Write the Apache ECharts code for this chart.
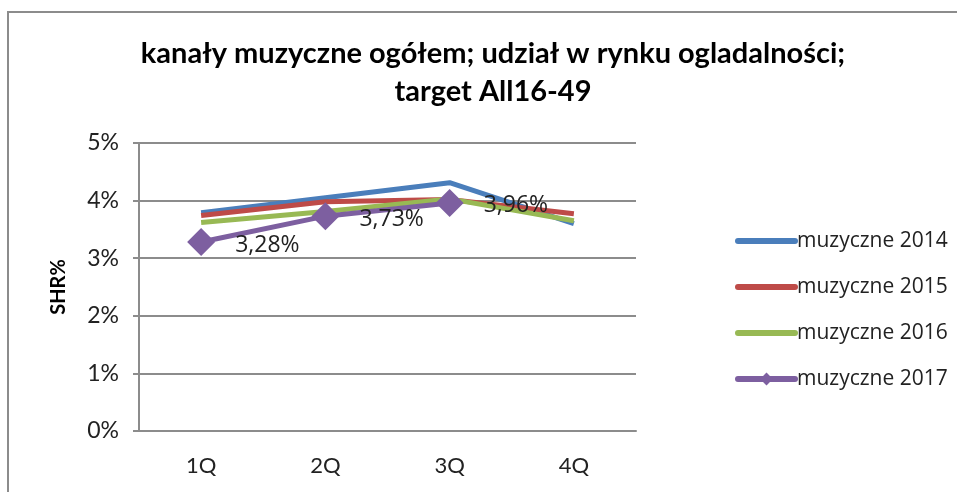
<!DOCTYPE html>
<html>
<head>
<meta charset="utf-8">
<script src="https://cdn.jsdelivr.net/npm/echarts@6/dist/echarts.min.js"></script>
<style>
  html, body { margin: 0; padding: 0; background: #fff; }
  #chart { width: 957px; height: 492px; }
</style>
</head>
<body>
<div id="chart"></div>
<script>
// dane (SHR% w procentach)
const quarters = ["1Q", "2Q", "3Q", "4Q"];
const yTicks = [0, 1, 2, 3, 4, 5];
const shr2014 = [3.79, 4.05, 4.31, 3.60];
const shr2015 = [3.74, 3.98, 4.02, 3.77];
const shr2016 = [3.62, 3.81, 4.03, 3.65];
const shr2017 = [3.28, 3.73, 3.96];
const seriesNames = ["muzyczne 2014", "muzyczne 2015", "muzyczne 2016", "muzyczne 2017"];
const colors = ["#4a7ebb", "#be4b48", "#98b954", "#7d5fa0"];

const chart = echarts.init(document.getElementById("chart"));

function lineSeries(idx, data) {
  return {
    name: seriesNames[idx],
    type: "line",
    data: data,
    symbol: "none",
    lineStyle: { width: 5, color: colors[idx] },
    itemStyle: { color: colors[idx] },
    emphasis: { disabled: true }
  };
}

// legenda: linie bez kółek, tylko 2017 ma romb
const legendData = seriesNames.map((n, i) => ({
  name: n,
  itemStyle: i < 3 ? { opacity: 0 } : { color: colors[i] },
  lineStyle: { width: 6, cap: "round", color: colors[i] }
}));

chart.setOption({
  animation: false,
  title: {
    text: "kanały muzyczne ogółem; udział w rynku ogladalności;\ntarget All16-49",
    left: 488,
    textAlign: "center",
    top: 30,
    textStyle: {
      fontFamily: "Lato",
      fontWeight: "bold",
      fontSize: 29,
      color: "#000",
      lineHeight: 38
    }
  },
  graphic: [
    {
      type: "rect",
      shape: { x: 8, y: 12, width: 1000, height: 600 },
      style: { fill: "none", stroke: "#8c8c8c", lineWidth: 2 },
      silent: true
    }
  ],
  legend: {
    orient: "vertical",
    left: 730,
    top: 224,
    itemWidth: 57,
    itemHeight: 16,
    itemGap: 22,
    data: legendData,
    textStyle: {
      fontFamily: "Open Sans",
      fontSize: 21,
      lineHeight: 24,
      color: "#222",
      padding: [0, 0, 0, -3]
    }
  },
  grid: { left: 139, right: 321, top: 143, bottom: 61 },
  xAxis: {
    type: "category",
    data: quarters,
    boundaryGap: true,
    axisLine: { lineStyle: { color: "#8c8c8c", width: 2 } },
    axisTick: { show: false },
    axisLabel: {
      fontFamily: "Lato",
      fontSize: 22,
      color: "#222",
      margin: 24
    }
  },
  yAxis: {
    type: "value",
    min: yTicks[0],
    max: yTicks[yTicks.length - 1],
    interval: 1,
    name: "SHR%",
    nameLocation: "middle",
    nameGap: 70,
    nameRotate: 90,
    nameTextStyle: {
      fontFamily: "Lato",
      fontWeight: "bold",
      fontSize: 20,
      color: "#000"
    },
    axisLine: { show: true, lineStyle: { color: "#8c8c8c", width: 2 } },
    axisTick: { show: true, length: 6, lineStyle: { color: "#8c8c8c", width: 2 } },
    splitLine: { lineStyle: { color: "#8c8c8c", width: 2 } },
    axisLabel: {
      fontFamily: "Lato",
      fontSize: 23,
      color: "#222",
      margin: 20,
      formatter: v => v + "%"
    }
  },
  series: [
    lineSeries(0, shr2014),
    lineSeries(1, shr2015),
    lineSeries(2, shr2016),
    Object.assign(lineSeries(3, shr2017), {
      symbol: "diamond",
      symbolSize: 28,
      label: {
        show: true,
        position: "right",
        distance: 20,
        offset: [0, 3],
        fontFamily: "Open Sans",
        fontSize: 23,
        color: "#222",
        formatter: p => p.value.toFixed(2).replace(".", ",") + "%"
      }
    })
  ]
});
</script>
</body>
</html>
